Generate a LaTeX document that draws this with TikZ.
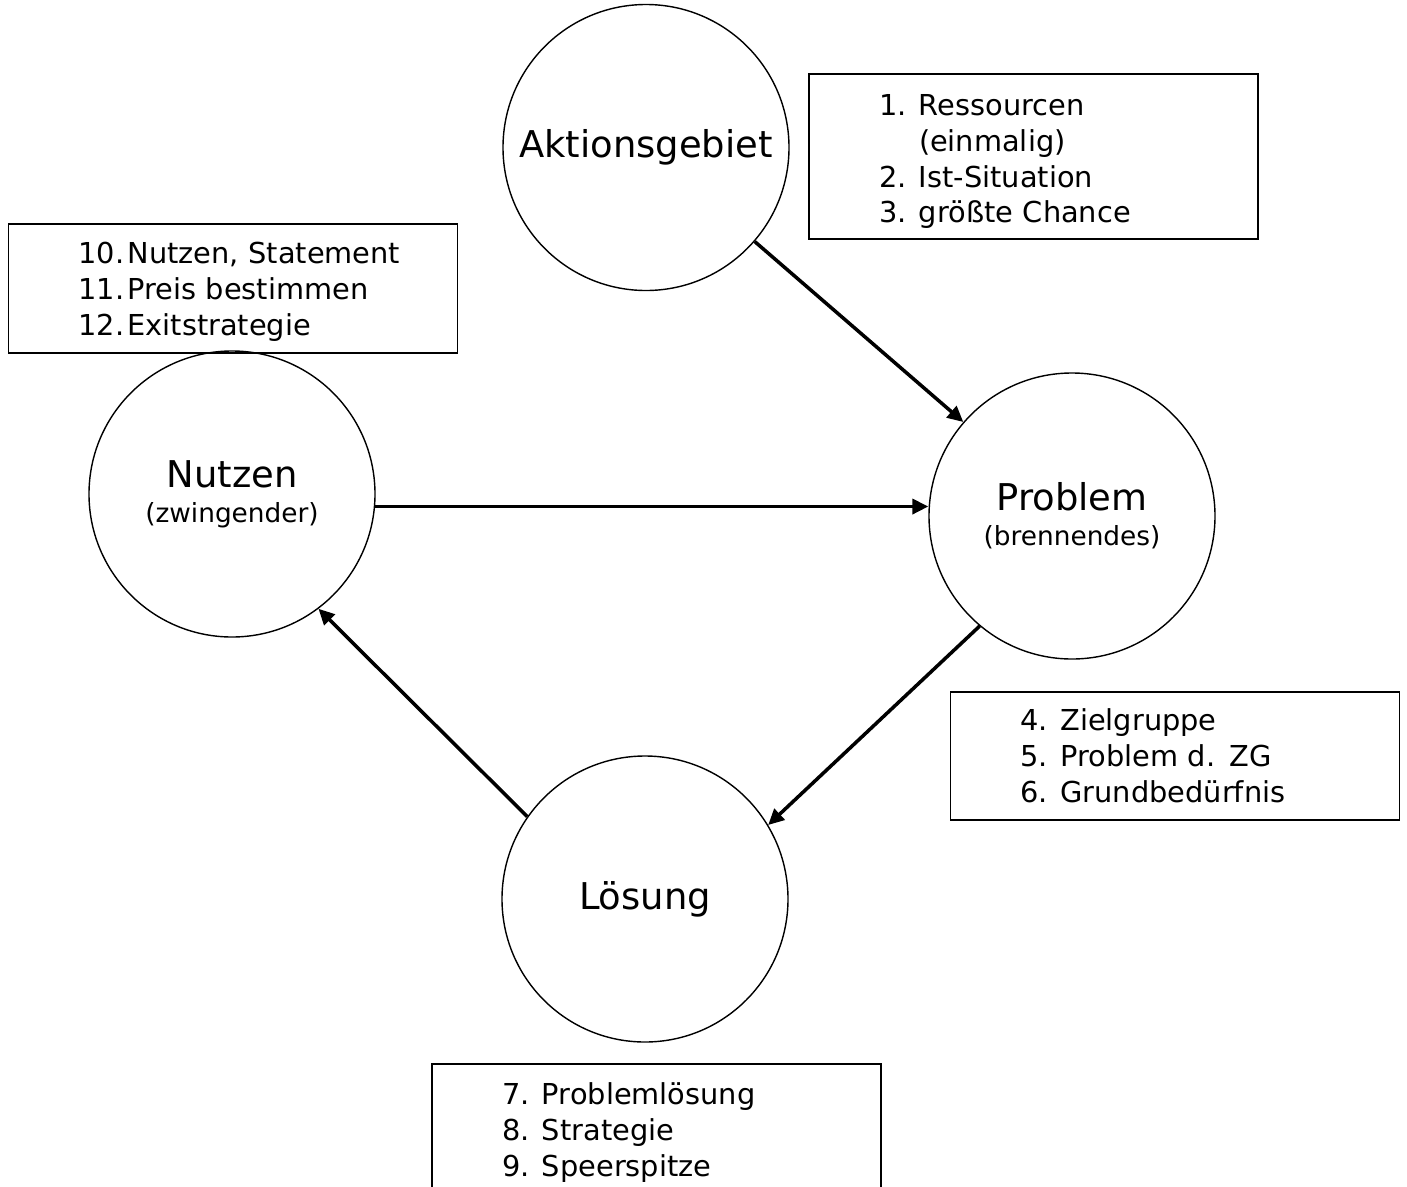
\documentclass[tikz,border=0pt]{standalone}
\usepackage{fontspec}
\setmainfont{DejaVu Sans}
\usetikzlibrary{arrows.meta, positioning}

\begin{document}
\begin{tikzpicture}[>={Triangle[length=9pt,width=8.5pt]}]
	\tikzstyle{circ} = [draw=black, circle, line width=0.8pt, minimum size=5.72cm, align=center, font=\fontsize{21}{20}\selectfont]
	\tikzstyle{liste} = [draw=black, rectangle, line width=0.8pt, inner xsep=1.4cm, text width=6.18cm, align=left, font=\fontsize{16.4}{20.4}\selectfont]
	\tikzstyle{arrow} = [line width=2pt, ->]

	\useasboundingbox (0,0) rectangle (28.14,-23.72);

	\node[circ]	at (12.92, -2.95)	(akt)	{Aktionsgebiet};
	\node[circ]	at (4.64, -9.88)	(nutz)	{Nutzen\\{\fontsize{15}{18}\selectfont(zwingender)}};
	\node[circ]	at (21.44, -10.32)	(prob)	{Problem\\{\fontsize{15}{18}\selectfont(brennendes)}};
	\node[circ]	at (12.90, -17.98)	(loes)	{Lösung};

	\node[liste, minimum height=3.30cm]	at (20.67, -3.13)	(b1)	{\raisebox{-0.11cm}[\height][\depth]{\begin{tabular}{@{}p{0.8cm}@{}l@{}}1. & Ressourcen\\ & (einmalig)\\ 2. & Ist-Situation\\ 3. & größte Chance\end{tabular}}};
	\node[liste, minimum height=2.58cm]	at (4.66, -5.77)	(b2)	{\raisebox{-0.08cm}[\height][\depth]{\begin{tabular}{@{}p{0.98cm}@{}l@{}}10. & Nutzen, Statement\\ 11. & Preis bestimmen\\ 12. & Exitstrategie\end{tabular}}};
	\node[liste, minimum height=2.56cm]	at (23.50, -15.12)	(b3)	{\raisebox{-0.07cm}[\height][\depth]{\begin{tabular}{@{}p{0.8cm}@{}l@{}}4. & Zielgruppe\\ 5. & Problem d. ZG\\ 6. & Grundbedürfnis\end{tabular}}};
	\node[liste, minimum height=2.60cm]	at (13.13, -22.58)	(b4)	{\raisebox{-0.08cm}[\height][\depth]{\begin{tabular}{@{}p{0.8cm}@{}l@{}}7. & Problemlösung\\ 8. & Strategie\\ 9. & Speerspitze\end{tabular}}};

	\draw [arrow] (akt) -- (prob);
	\draw [arrow] (nutz.-5) -- (nutz.-5 -| prob.west);
	\draw [arrow] (prob.230) -- (loes.31);
	\draw [arrow] (loes.145) -- (nutz.-53);
\end{tikzpicture}
\end{document}
